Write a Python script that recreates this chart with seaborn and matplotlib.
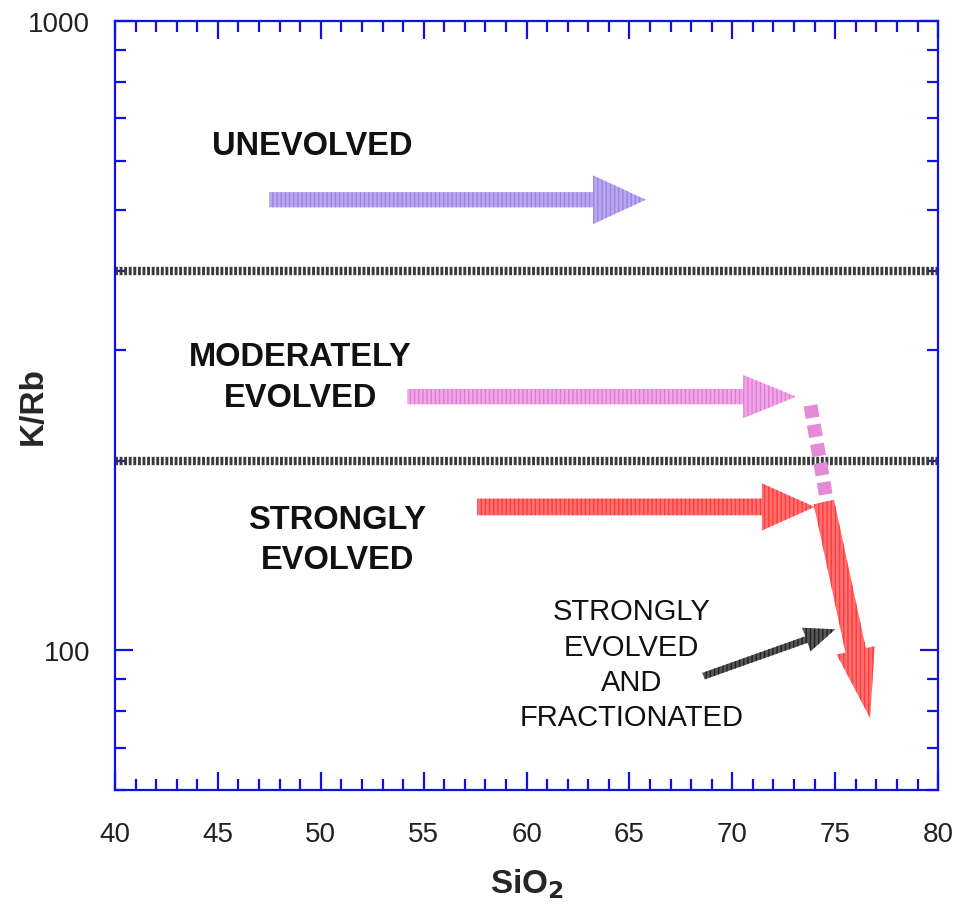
import numpy as np
import pandas as pd
import seaborn as sns
import matplotlib.pyplot as plt
from matplotlib.ticker import FixedLocator, NullFormatter

# field boundaries (K/Rb) and axis range
boundary_kr = [400, 200]
x_range = [40, 80]
y_range = [60, 1000]

# trend arrows: (x0, y0) -> (x1, y1)
unevolved_x = [47.5, 65.8]
unevolved_y = [520, 520]
moderate_x = [54.2, 73.1]
moderate_y = [253, 253]
strong_x = [57.6, 74.0]
strong_y = [169, 169]
link_x = [73.8, 74.6]          # dashed pink link between trends
link_y = [245, 172]
fract_x = [74.45, 76.7]
fract_y = [172, 78]
pointer_x = [68.6, 75.0]
pointer_y = [91, 108]

labels = ["UNEVOLVED", "MODERATELY\nEVOLVED", "STRONGLY\nEVOLVED"]
label_x = [49.6, 49.0, 50.8]
label_y = [635, 272, 150]
fract_label = "STRONGLY\nEVOLVED\nAND\nFRACTIONATED"
fract_label_xy = (65.1, 95)

sns.set_style("white")
plt.rcParams['font.family'] = ['Liberation Sans', 'DejaVu Sans']
plt.rcParams['hatch.linewidth'] = 1.0

fig = plt.figure(figsize=(9.7, 9.12), dpi=100)
ax = fig.add_axes([0.1186, 0.1327, 0.8485, 0.8432])
ax.set_yscale('log')

# boundaries between fields
for b in boundary_kr:
    df = pd.DataFrame({'x': x_range, 'y': [b, b]})
    sns.lineplot(data=df, x='x', y='y', ax=ax, color='#3a3a3a', lw=6,
                 linestyle=(0, (0.35, 0.2)), solid_capstyle='butt')

# dashed pink link
df = pd.DataFrame({'x': link_x, 'y': link_y})
sns.lineplot(data=df, x='x', y='y', ax=ax, color='#e58ad6', lw=10,
             linestyle=(0, (0.9, 0.5)), sort=False)


def arrow(xs, ys, fc, ec, hl, hw, tw):
    ax.annotate('', xy=(xs[1], ys[1]), xytext=(xs[0], ys[0]),
                arrowprops=dict(arrowstyle=f'simple,head_length={hl},head_width={hw},tail_width={tw}',
                                mutation_scale=1, shrinkA=0, shrinkB=0,
                                facecolor=fc, edgecolor=ec, lw=0, hatch='||||'))


arrow(unevolved_x, unevolved_y, '#b9a8f0', '#9a82e6', 38, 35, 11)
arrow(moderate_x, moderate_y, '#f0a8e8', '#e07ad2', 38, 31, 11)
arrow(strong_x, strong_y, '#ff7070', '#ff3b3b', 38, 34, 12)
arrow(fract_x, fract_y, '#ff7070', '#ff3b3b', 50, 28, 15)
arrow(pointer_x, pointer_y, '#555555', '#222222', 22, 18, 5)

for t, x, y in zip(labels, label_x, label_y):
    ax.text(x, y, t, ha='center', va='center', fontsize=23.5, fontweight='bold',
            linespacing=1.4, color='#111111')
ax.text(*fract_label_xy, fract_label, ha='center', va='center', fontsize=21,
        linespacing=1.33, color='#111111')

ax.set_xlim(*x_range)
ax.set_ylim(*y_range)
ax.set_xticks(np.arange(40, 81, 5))
ax.xaxis.set_minor_locator(FixedLocator(np.arange(40, 81, 1)))
ax.set_yticks([100, 1000])
ax.set_yticklabels(['100', '1000'])
ax.yaxis.set_minor_locator(FixedLocator([60, 70, 80, 90, 200, 300, 400, 500, 600, 700, 800, 900]))
ax.yaxis.set_minor_formatter(NullFormatter())

blue = '#1010e8'
for s in ax.spines.values():
    s.set_color(blue)
    s.set_linewidth(1.6)
ax.tick_params(which='both', direction='in', colors=blue, top=True, right=True,
               bottom=True, left=True, labelcolor='#222222', labelsize=20, width=1.6)
ax.tick_params(which='major', length=13)
ax.tick_params(which='minor', length=8)
ax.tick_params(axis='x', which='major', pad=22)
ax.tick_params(axis='y', which='major', pad=18)

ax.set_xlabel('SiO$_\\mathbf{2}$', fontsize=24, fontweight='bold', labelpad=14)
ax.set_ylabel('K/Rb', fontsize=24, fontweight='bold')
ax.yaxis.set_label_coords(-0.081, 0.5)

fig.savefig('out.png', dpi=100)
